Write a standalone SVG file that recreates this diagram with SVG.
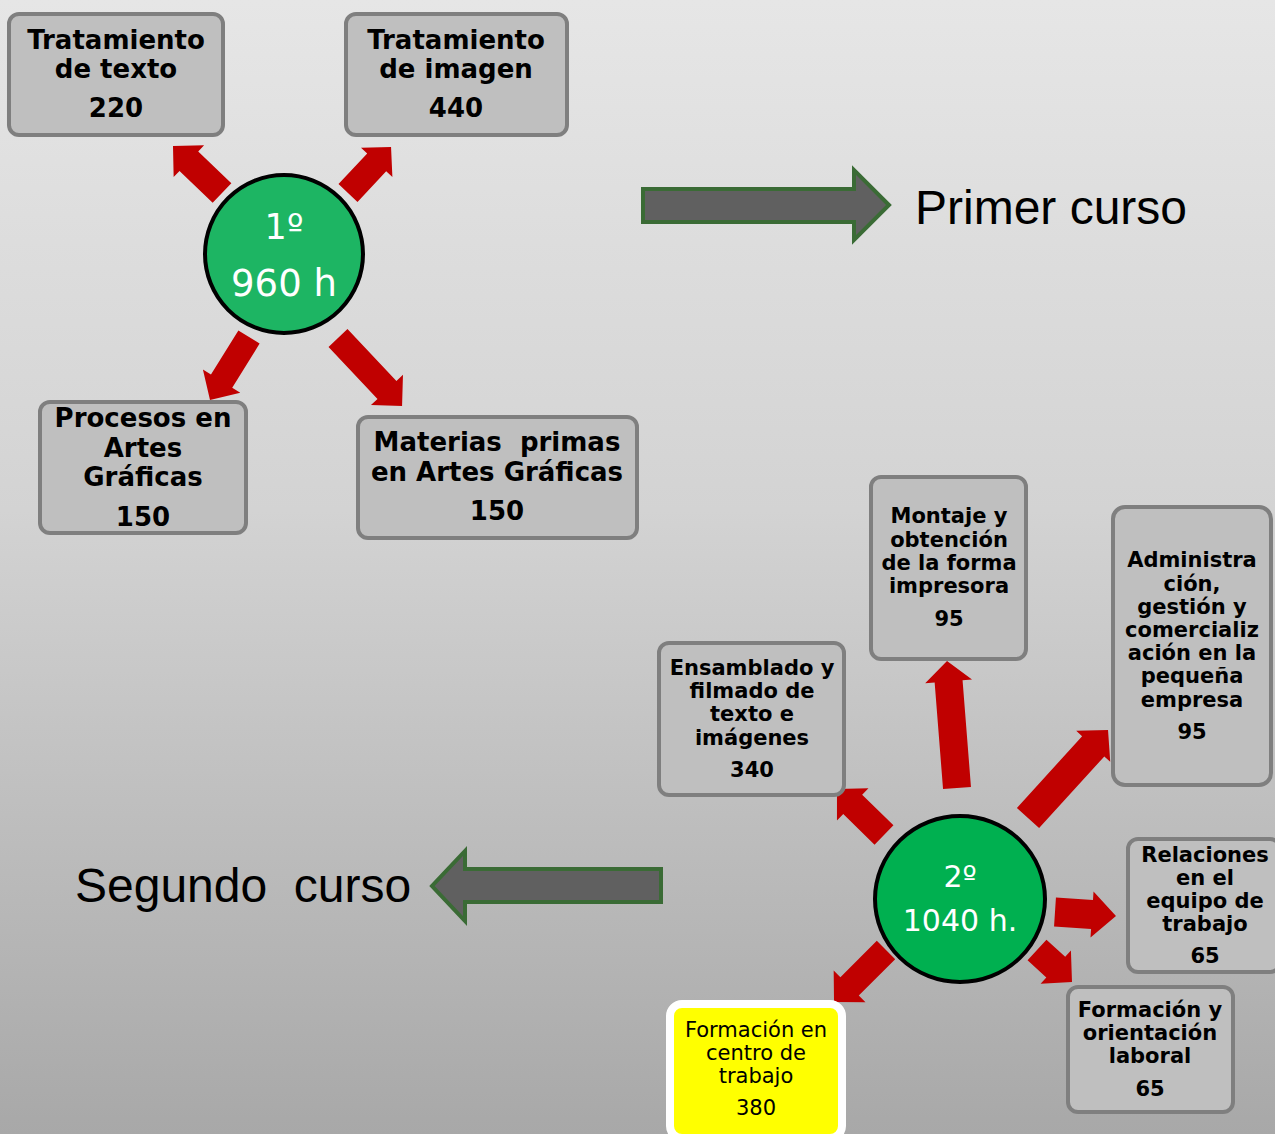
<svg xmlns="http://www.w3.org/2000/svg" width="1275" height="1134" viewBox="0 0 1275 1134">
<defs>
<linearGradient id="bg" x1="0" y1="0" x2="0" y2="1">
<stop offset="0" stop-color="#e6e6e6"/>
<stop offset="0.45" stop-color="#d3d3d3"/>
<stop offset="1" stop-color="#a8a8a8"/>
</linearGradient>
<style>
.box{fill:#bfbfbf;stroke:#7f7f7f;stroke-width:4}
.bt{font-family:"DejaVu Sans",Verdana,sans-serif;font-weight:bold;fill:#000;text-anchor:middle}
.t26{font-size:26px}
.t21{font-size:21px}
.ra{fill:#c00000}
.big{fill:#606060;stroke:#3a6b35;stroke-width:4}
.lab{font-family:"Liberation Sans",Arial,sans-serif;font-size:48px;fill:#000}
.ct{font-family:"DejaVu Sans",Verdana,sans-serif;fill:#fff;text-anchor:middle}
</style>
</defs>
<rect x="0" y="0" width="1275" height="1134" fill="url(#bg)"/>

<g id="connectors">
<polygon class="ra" transform="translate(222,193) rotate(223.8)" points="0,-13.5 45.9,-13.5 45.9,-22 67.9,0 45.9,22 45.9,13.5 0,13.5"/>
<polygon class="ra" transform="translate(348,193) rotate(-46.9)" points="0,-13 42,-13 42,-21.5 63,0 42,21.5 42,13 0,13"/>
<polygon class="ra" transform="translate(249,337) rotate(121.8)" points="0,-12.5 52,-12.5 52,-22 74,0 52,22 52,12.5 0,12.5"/>
<polygon class="ra" transform="translate(338,338) rotate(46.7)" points="0,-13 71.4,-13 71.4,-22 93.4,0 71.4,22 71.4,13 0,13"/>
<polygon class="ra" transform="translate(957,788) rotate(-94.5)" points="0,-14 107,-14 107,-23.5 127.4,0 107,23.5 107,14 0,14"/>
<polygon class="ra" transform="translate(1028,818) rotate(-47.7)" points="0,-15 96.9,-15 96.9,-23 118.9,0 96.9,23 96.9,15 0,15"/>
<polygon class="ra" transform="translate(884,835) rotate(224.4)" points="0,-13.5 43.8,-13.5 43.8,-22.5 65.8,0 43.8,22.5 43.8,13.5 0,13.5"/>
<polygon class="ra" transform="translate(1055,912) rotate(3.75)" points="0,-14.5 37.1,-14.5 37.1,-23 61.1,0 37.1,23 37.1,14.5 0,14.5"/>
<polygon class="ra" transform="translate(1037,950) rotate(42.4)" points="0,-14 25.4,-14 25.4,-22.5 47.4,0 25.4,22.5 25.4,14 0,14"/>
<polygon class="ra" transform="translate(886,950) rotate(135)" points="0,-13 51.5,-13 51.5,-22.5 73.5,0 51.5,22.5 51.5,13 0,13"/>
<polygon class="big" points="643,189 854,189 854,170 889,205 854,240 854,222 643,222"/>
<polygon class="big" points="661,869 465,869 465,851 432,886 465,921 465,902 661,902"/>
</g>

<g id="primer-curso"><text class="lab" x="915" y="224">Primer curso</text></g>
<g id="segundo-curso"><text class="lab" x="75" y="902" xml:space="preserve">Segundo  curso</text></g>

<g id="curso1">
<circle cx="284" cy="254" r="79" fill="#1db563" stroke="#000" stroke-width="4"/>
<text class="ct" x="284" y="239" font-size="35">1º</text>
<text class="ct" x="284" y="296" font-size="37">960 h</text>
</g>

<g id="tratamiento-texto">
<rect class="box" x="9" y="14" width="214" height="121" rx="10"/>
<text class="bt t26" x="116" y="49">Tratamiento</text>
<text class="bt t26" x="116" y="78">de texto</text>
<text class="bt t26" x="116" y="117">220</text>
</g>

<g id="tratamiento-imagen">
<rect class="box" x="346" y="14" width="221" height="121" rx="10"/>
<text class="bt t26" x="456" y="49">Tratamiento</text>
<text class="bt t26" x="456" y="78">de imagen</text>
<text class="bt t26" x="456" y="117">440</text>
</g>

<g id="procesos">
<rect class="box" x="40" y="402" width="206" height="131" rx="10"/>
<text class="bt t26" x="143" y="427">Procesos en</text>
<text class="bt t26" x="143" y="457">Artes</text>
<text class="bt t26" x="143" y="486">Gráficas</text>
<text class="bt t26" x="143" y="526">150</text>
</g>

<g id="materias">
<rect class="box" x="358" y="417" width="279" height="121" rx="10"/>
<text class="bt t26" x="497" y="451" xml:space="preserve">Materias  primas</text>
<text class="bt t26" x="497" y="481">en Artes Gráficas</text>
<text class="bt t26" x="497" y="520">150</text>
</g>

<g id="curso2">
<ellipse cx="960" cy="899" rx="85" ry="83" fill="#00b050" stroke="#000" stroke-width="4"/>
<text class="ct" x="960" y="887" font-size="30">2º</text>
<text class="ct" x="960" y="931" font-size="30">1040 h.</text>
</g>

<g id="montaje">
<rect class="box" x="871" y="477" width="155" height="182" rx="10"/>
<text class="bt t21" x="949" y="523">Montaje y</text>
<text class="bt t21" x="949" y="547">obtención</text>
<text class="bt t21" x="949" y="570">de la forma</text>
<text class="bt t21" x="949" y="593">impresora</text>
<text class="bt t21" x="949" y="626">95</text>
</g>

<g id="administracion">
<rect class="box" x="1113" y="507" width="158" height="278" rx="12"/>
<text class="bt t21" x="1192" y="567">Administra</text>
<text class="bt t21" x="1192" y="591">ción,</text>
<text class="bt t21" x="1192" y="614">gestión y</text>
<text class="bt t21" x="1192" y="637">comercializ</text>
<text class="bt t21" x="1192" y="660">ación en la</text>
<text class="bt t21" x="1192" y="683">pequeña</text>
<text class="bt t21" x="1192" y="707">empresa</text>
<text class="bt t21" x="1192" y="739">95</text>
</g>

<g id="ensamblado">
<rect class="box" x="659" y="643" width="185" height="152" rx="10"/>
<text class="bt t21" x="752" y="675">Ensamblado y</text>
<text class="bt t21" x="752" y="698">filmado de</text>
<text class="bt t21" x="752" y="721">texto e</text>
<text class="bt t21" x="752" y="745">imágenes</text>
<text class="bt t21" x="752" y="777">340</text>
</g>

<g id="relaciones">
<rect class="box" x="1128" y="839" width="152" height="133" rx="10"/>
<text class="bt t21" x="1205" y="862">Relaciones</text>
<text class="bt t21" x="1205" y="885">en el</text>
<text class="bt t21" x="1205" y="908">equipo de</text>
<text class="bt t21" x="1205" y="931">trabajo</text>
<text class="bt t21" x="1205" y="963">65</text>
</g>

<g id="fol">
<rect class="box" x="1068" y="987" width="165" height="125" rx="10"/>
<text class="bt t21" x="1150" y="1017">Formación y</text>
<text class="bt t21" x="1150" y="1040">orientación</text>
<text class="bt t21" x="1150" y="1063">laboral</text>
<text class="bt t21" x="1150" y="1096">65</text>
</g>

<g id="fct">
<rect x="670" y="1004" width="172" height="134" rx="12" fill="#ffff00" stroke="#ffffff" stroke-width="8"/>
<text x="756" y="1037" font-family="DejaVu Sans,Verdana,sans-serif" font-size="21" text-anchor="middle" fill="#000">Formación en</text>
<text x="756" y="1060" font-family="DejaVu Sans,Verdana,sans-serif" font-size="21" text-anchor="middle" fill="#000">centro de</text>
<text x="756" y="1083" font-family="DejaVu Sans,Verdana,sans-serif" font-size="21" text-anchor="middle" fill="#000">trabajo</text>
<text x="756" y="1115" font-family="DejaVu Sans,Verdana,sans-serif" font-size="21" text-anchor="middle" fill="#000">380</text>
</g>
</svg>
